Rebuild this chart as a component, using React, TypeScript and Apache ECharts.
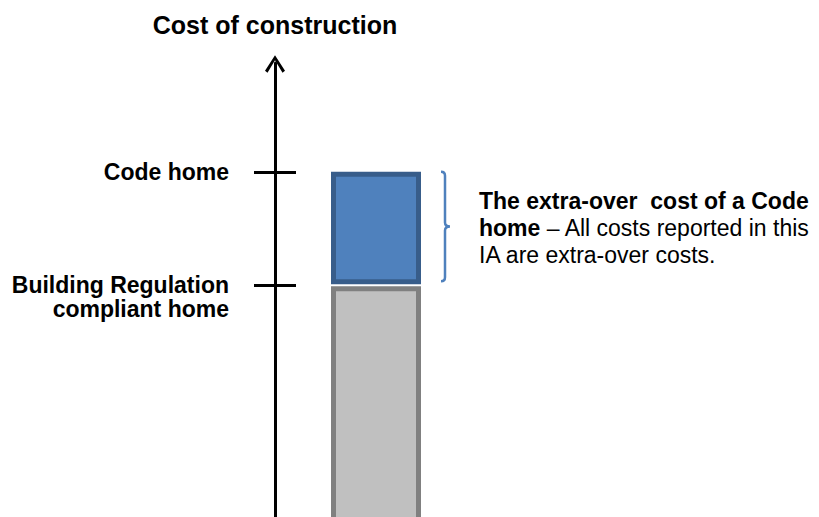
import React, { useEffect, useRef } from 'react';
import * as echarts from 'echarts';

// ---- data ----
const levelNames = ['Building Regulation\ncompliant home', 'Code home'];
const levelCosts = [53, 77];
const axisMin = 0;
const axisMax = 100;
const categories = ['Cost'];
const chartTitle = 'Cost of construction';
const noteBold = ['The extra-over  cost of a Code', 'home'];
const noteRest = [' \u2013 All costs reported in this', 'IA are extra-over costs.'];

// ---- styles ----
const FONT = '"Liberation Sans", Arial, Helvetica, sans-serif';
const AXIS_X = 275;
const BLUE = '#4F81BD';
const BLUE_EDGE = '#385D8A';
const GREY = '#C0C0C0';
const GREY_EDGE = '#808080';
const ARROW = 'path://M10,0 L20,15.5 L17.5,17.5 L10,5 L2.5,17.5 L0,15.5 Z';

export default function App() {
  const ref = useRef<HTMLDivElement>(null);

  useEffect(() => {
    if (!ref.current) return;
    const chart = echarts.init(ref.current, null, { renderer: 'svg' });

    const barData = [
      [0, axisMin, levelCosts[0]],
      [0, levelCosts[0], levelCosts[1]],
    ];
    const bracketData = [[0, levelCosts[0], levelCosts[1]]];

    const labelFor = (v: number) => {
      const i = levelCosts.indexOf(v);
      const s = i >= 0 ? levelNames[i] : '';
      return s.includes('\n') ? '\n' + s : s;
    };

    const tickStyle = { color: '#000', width: 3 };

    const option: any = {
      animation: false,
      grid: {
        left: AXIS_X,
        right: 342,
        top: 63,
        height: 473,
        containLabel: false,
        outerBoundsMode: 'none',
      },
      xAxis: {
        type: 'category',
        data: categories,
        show: false,
      },
      yAxis: [
        {
          type: 'value',
          min: axisMin,
          max: axisMax,
          position: 'left',
          axisLine: {
            show: true,
            symbol: ['none', ARROW],
            symbolSize: [20, 18],
            symbolOffset: [0, -1],
            lineStyle: { color: '#000', width: 3 },
          },
          axisTick: {
            show: true,
            inside: false,
            length: 21,
            customValues: levelCosts,
            lineStyle: tickStyle,
          },
          axisLabel: {
            show: true,
            customValues: levelCosts,
            formatter: labelFor,
            margin: 46,
            fontSize: 23,
            fontWeight: 'bold',
            fontFamily: FONT,
            color: '#000',
            lineHeight: 24,
            align: 'right',
          },
          splitLine: { show: false },
        },
        {
          type: 'value',
          min: axisMin,
          max: axisMax,
          position: 'left',
          axisLine: { show: false },
          axisTick: {
            show: true,
            inside: true,
            length: 21,
            customValues: levelCosts,
            lineStyle: tickStyle,
          },
          axisLabel: { show: false },
          splitLine: { show: false },
        },
      ],
      graphic: [
        {
          type: 'text',
          x: AXIS_X,
          y: 25,
          style: {
            text: chartTitle,
            fontSize: 25,
            fontWeight: 'bold',
            fontFamily: FONT,
            fill: '#000',
            align: 'center',
            verticalAlign: 'middle',
          },
        },
      ],
      series: [
        {
          type: 'custom',
          name: 'bars',
          clip: false,
          data: barData,
          encode: { x: 0, y: [1, 2] },
          renderItem: (params: any, api: any) => {
            const lo = api.value(1);
            const hi = api.value(2);
            const top = api.coord([0, hi]);
            const bottom = api.coord([0, lo]);
            const isBase = params.dataIndex === 0;
            const bw = 5;
            const half = 45;
            const y0 = top[1] + (isBase ? 1 : 0) + bw / 2;
            const y1 = bottom[1] - (isBase ? 0 : 1) - bw / 2;
            return {
              type: 'rect',
              shape: {
                x: top[0] - half + bw / 2,
                y: y0,
                width: 2 * half - bw,
                height: y1 - y0,
              },
              style: {
                fill: isBase ? GREY : BLUE,
                stroke: isBase ? GREY_EDGE : BLUE_EDGE,
                lineWidth: bw,
              },
            };
          },
        },
        {
          type: 'custom',
          name: 'bracket',
          clip: false,
          data: bracketData,
          encode: { x: 0, y: [1, 2] },
          renderItem: (params: any, api: any) => {
            const lo = api.value(1);
            const hi = api.value(2);
            const pTop = api.coord([0, hi]);
            const pBot = api.coord([0, lo]);
            const x = pTop[0] + 69;
            const top = pTop[1];
            const bot = pBot[1] - 4;
            const mid = (top + bot) / 2;
            const d =
              `M${x - 4},${top} Q${x},${top} ${x},${top + 4} ` +
              `L${x},${mid - 4} Q${x},${mid} ${x + 5},${mid} ` +
              `Q${x},${mid} ${x},${mid + 4} L${x},${bot - 4} ` +
              `Q${x},${bot} ${x - 4},${bot}`;
            const richText =
              `{b|${noteBold[0]}}\n{b|${noteBold[1]}}{n|${noteRest[0]}}\n{n|${noteRest[1]}}`;
            return {
              type: 'group',
              children: [
                {
                  type: 'path',
                  shape: { pathData: d },
                  style: { fill: 'none', stroke: BLUE, lineWidth: 2.5 },
                },
                {
                  type: 'text',
                  x: x + 34,
                  y: mid + 1,
                  style: {
                    text: richText,
                    fontSize: 23,
                    fontFamily: FONT,
                    fill: '#000',
                    lineHeight: 27,
                    align: 'left',
                    verticalAlign: 'middle',
                    rich: {
                      b: { fontSize: 23, fontWeight: 'bold', fontFamily: FONT, fill: '#000', lineHeight: 27 },
                      n: { fontSize: 23, fontWeight: 'normal', fontFamily: FONT, fill: '#000', lineHeight: 27 },
                    },
                  },
                },
              ],
            };
          },
        },
      ],
    };

    chart.setOption(option);
    return () => {
      chart.dispose();
    };
  }, []);

  return (
    <div
      ref={ref}
      style={{ position: 'fixed', left: 0, top: 0, width: 819, height: 517, background: '#fff' }}
    />
  );
}
